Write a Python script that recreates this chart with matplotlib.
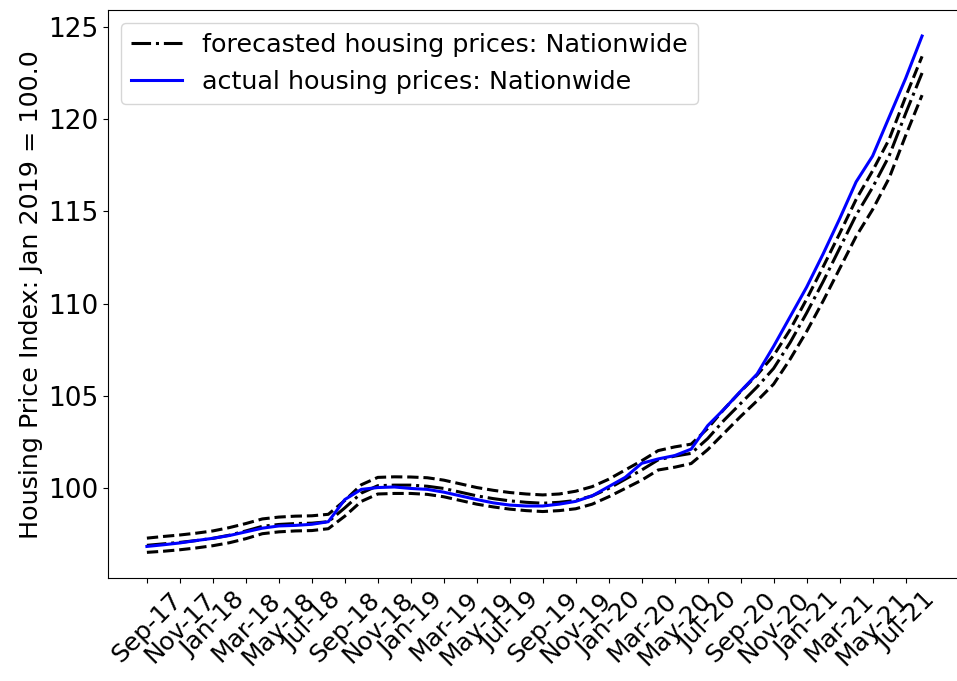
import matplotlib
matplotlib.use('Agg')
import matplotlib.pyplot as plt

# monthly periods, Sep-17 .. Aug-21
months = ['Sep-17', 'Oct-17', 'Nov-17', 'Dec-17',
          'Jan-18', 'Feb-18', 'Mar-18', 'Apr-18', 'May-18', 'Jun-18',
          'Jul-18', 'Aug-18', 'Sep-18', 'Oct-18', 'Nov-18', 'Dec-18',
          'Jan-19', 'Feb-19', 'Mar-19', 'Apr-19', 'May-19', 'Jun-19',
          'Jul-19', 'Aug-19', 'Sep-19', 'Oct-19', 'Nov-19', 'Dec-19',
          'Jan-20', 'Feb-20', 'Mar-20', 'Apr-20', 'May-20', 'Jun-20',
          'Jul-20', 'Aug-20', 'Sep-20', 'Oct-20', 'Nov-20', 'Dec-20',
          'Jan-21', 'Feb-21', 'Mar-21', 'Apr-21', 'May-21', 'Jun-21',
          'Jul-21', 'Aug-21']

actual = [96.86, 96.95, 97.05, 97.18, 97.30, 97.45, 97.65, 97.85, 97.97, 98.00,
          98.06, 98.20, 99.40, 99.95, 100.05, 100.08, 100.00, 99.95, 99.80, 99.60,
          99.40, 99.22, 99.10, 99.05, 99.05, 99.15, 99.30, 99.60, 100.10, 100.60,
          101.36, 101.60, 101.78, 102.13, 103.40, 104.30, 105.27, 106.20, 107.70, 109.30,
          110.90, 112.70, 114.60, 116.60, 118.00, 120.10, 122.20, 124.50]

forecast = [96.92, 97.00, 97.08, 97.18, 97.30, 97.47, 97.70, 97.95, 98.05, 98.10,
            98.12, 98.20, 98.95, 99.75, 100.15, 100.18, 100.18, 100.12, 100.00, 99.80,
            99.60, 99.45, 99.33, 99.25, 99.20, 99.25, 99.35, 99.60, 100.00, 100.50,
            101.00, 101.55, 101.75, 101.90, 102.70, 103.70, 104.60, 105.50, 106.50, 107.90,
            109.50, 111.20, 113.00, 114.80, 116.30, 118.00, 120.30, 122.50]

upper = [97.31, 97.40, 97.48, 97.58, 97.70, 97.88, 98.10, 98.35, 98.45, 98.50,
         98.52, 98.60, 99.35, 100.20, 100.60, 100.63, 100.62, 100.58, 100.45, 100.25,
         100.05, 99.90, 99.78, 99.70, 99.65, 99.70, 99.85, 100.10, 100.50, 101.00,
         101.50, 102.05, 102.25, 102.40, 103.25, 104.30, 105.25, 106.15, 107.20, 108.60,
         110.25, 112.00, 113.80, 115.65, 117.20, 118.90, 121.20, 123.40]

lower = [96.54, 96.60, 96.68, 96.78, 96.90, 97.06, 97.28, 97.55, 97.65, 97.70,
         97.72, 97.82, 98.50, 99.30, 99.70, 99.73, 99.73, 99.68, 99.55, 99.35,
         99.15, 99.00, 98.88, 98.80, 98.75, 98.80, 98.90, 99.15, 99.55, 100.00,
         100.45, 101.00, 101.15, 101.35, 102.10, 103.00, 103.90, 104.75, 105.65, 107.00,
         108.50, 110.15, 111.90, 113.65, 115.10, 116.80, 119.10, 121.30]

fig = plt.figure(figsize=(9.57, 6.81), dpi=100)
# right edge of the axes falls just outside the picture, as in the original crop
ax = fig.add_axes([0.113, 0.151, 0.891, 0.834])

ax.plot(months, forecast, color='black', linestyle='-.', linewidth=2.2,
        label='forecasted housing prices: Nationwide')
ax.plot(months, upper, color='black', linestyle='--', linewidth=2.2)
ax.plot(months, lower, color='black', linestyle='--', linewidth=2.2)
ax.plot(months, actual, color='blue', linestyle='-', linewidth=2.2,
        label='actual housing prices: Nationwide')

ax.set_ylabel('Housing Price Index: Jan 2019 = 100.0', fontsize=18.3)
ax.set_xticks(months[::2])
ax.set_xticklabels(months[::2], rotation=45, fontsize=18)
ax.tick_params(axis='y', labelsize=19)
ax.spines['right'].set_visible(False)
ax.legend(loc='upper left', fontsize=18.3)

fig.savefig('out.png', dpi=100)
